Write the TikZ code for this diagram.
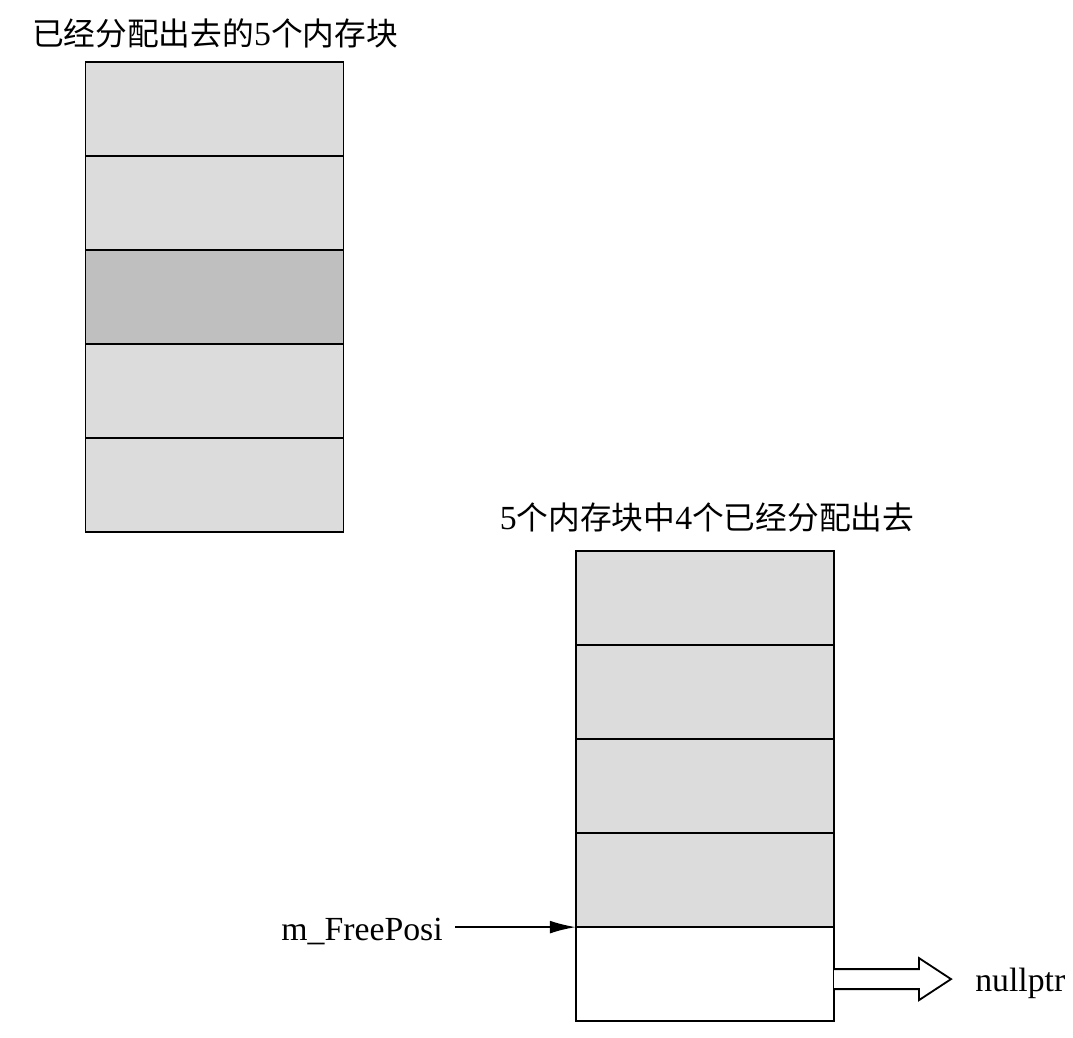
\documentclass[tikz,border=0pt]{standalone}
\usepackage{fontspec}
\setmainfont{Liberation Serif}
\newfontfamily\cjk[Scale=0.94]{Noto Sans CJK SC}
\usetikzlibrary{positioning,calc,arrows.meta}
\definecolor{blockgray}{HTML}{DCDCDC}
\definecolor{usedgray}{HTML}{BFBFBF}
\tikzset{
  block/.style={draw,line width=1.3pt,fill=blockgray,minimum width=6.45cm,
    minimum height=2.35cm,inner sep=0pt,outer sep=0pt},
  lbl/.style={font=\fontsize{24}{28}\selectfont,inner sep=0pt}
}

\begin{document}
\begin{tikzpicture}[x=0.025cm,y=-0.025cm]
     \useasboundingbox (0,0) rectangle (1073,1038);
     % left stack: all five blocks handed out
     \node[block,anchor=north] (a1) at (214.5,62) {};
     \node[block,below=0pt of a1] (a2) {};
     \node[block,below=0pt of a2,fill=usedgray] (a3) {};
     \node[block,below=0pt of a3] (a4) {};
     \node[block,below=0pt of a4] (a5) {};
     \node[lbl] (t1) at (215,33) {{\cjk 已经分配出去的}5{\cjk 个内存块}};
     % right stack: four of five handed out
     \node[block,anchor=north] (b1) at (705,551) {};
     \node[block,below=0pt of b1] (b2) {};
     \node[block,below=0pt of b2] (b3) {};
     \node[block,below=0pt of b3] (b4) {};
     \node[block,below=0pt of b4,fill=white] (b5) {};
     \node[lbl] (t2) at (707,517) {5{\cjk 个内存块中}4{\cjk 个已经分配出去}};
     \node[lbl,anchor=base east] (fp) at (443,940) {m\_FreePosi};
     \draw[line width=1.3pt,-{Latex[length=6.5mm,width=3.2mm]}]
          ([xshift=3mm]fp.east |- b5.north west) -- (b5.north west);
     \draw[line width=1.3pt,fill=white] ($(b5.east)+(0,-5)$) -- ++(85,0) -- ++(0,-11)
          -- ++(32,21) -- ++(-32,21) -- ++(0,-11) -- ++(-85,0);
     \node[lbl,anchor=base west] (np) at (975,991) {nullptr};
\end{tikzpicture}
\end{document}
